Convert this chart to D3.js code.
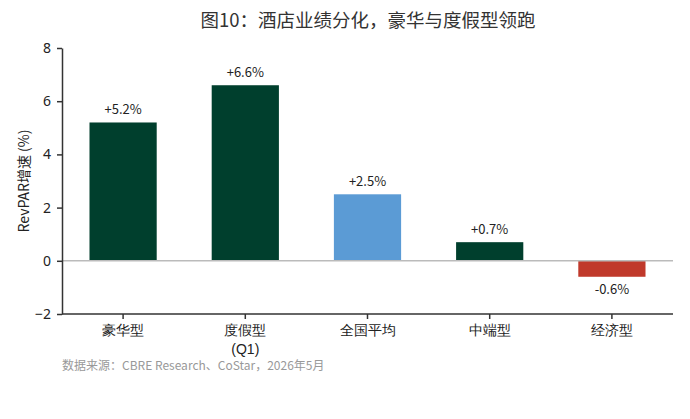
<!DOCTYPE html>
<html><head><meta charset="utf-8">
<script src="https://cdn.jsdelivr.net/npm/d3@7"></script>
<style>body{margin:0;background:#fff}svg{display:block;font-family:"Noto Sans CJK SC","Noto Sans",sans-serif}</style>
</head><body><svg id="c" width="690" height="419"></svg>
<script>
const categories = ["豪华型","度假型\n(Q1)","全国平均","中端型","经济型"];
const values = [5.2, 6.6, 2.5, 0.7, -0.6];
const valueLabels = ["+5.2%","+6.6%","+2.5%","+0.7%","-0.6%"];
const barColors = ["#003F2D","#003F2D","#5B9BD5","#003F2D","#C0392B"];
const yTicks = [-2,0,2,4,6,8];

const svg = d3.select("#c");
const x = d3.scaleBand().domain(categories).range([62,673]).paddingInner(0.45).paddingOuter(0.225);
const y = d3.scaleLinear().domain([-2,8]).range([314,48]);

svg.append("text").attr("x",368).attr("y",27).attr("text-anchor","middle")
  .attr("font-size",18.5).attr("fill","#333").text("图10：酒店业绩分化，豪华与度假型领跑");

// bars
svg.selectAll("rect.bar").data(values).join("rect").attr("class","bar")
  .attr("x",(d,i)=>x(categories[i])).attr("width",x.bandwidth())
  .attr("y",d=>y(Math.max(0,d))).attr("height",d=>Math.abs(y(d)-y(0)))
  .attr("fill",(d,i)=>barColors[i]);

// zero line
svg.append("line").attr("x1",62).attr("x2",673).attr("y1",y(0)).attr("y2",y(0))
  .attr("stroke","#BBBBBB").attr("stroke-width",1.5);

// value labels
svg.selectAll("text.val").data(values).join("text").attr("class","val")
  .attr("x",(d,i)=>x(categories[i])+x.bandwidth()/2)
  .attr("y",d=>d>=0?y(d)-8:y(d)+17)
  .attr("text-anchor","middle").attr("font-size",13).attr("fill","#222")
  .text((d,i)=>valueLabels[i]);

// y axis
const ya = svg.append("g").attr("transform","translate(62,0)")
  .call(d3.axisLeft(y).tickValues(yTicks).tickSize(5).tickSizeOuter(0).tickPadding(6));
ya.select(".domain").attr("stroke","#333").attr("stroke-width",1.5);
ya.selectAll(".tick line").attr("stroke","#333").attr("stroke-width",1.5);
ya.selectAll(".tick text").attr("font-size",14).attr("fill","#222").attr("font-family","'Noto Sans',sans-serif");

// x axis
const xa = svg.append("g").attr("transform","translate(0,314)")
  .call(d3.axisBottom(x).tickSize(5).tickSizeOuter(0).tickFormat(""));
xa.select(".domain").attr("stroke","#333").attr("stroke-width",1.5).attr("d","M62,0H673");
xa.selectAll(".tick line").attr("stroke","#333").attr("stroke-width",1.5);
xa.selectAll(".tick").each(function(d){
  const lines = d.split("\n");
  const t = d3.select(this).append("text").attr("text-anchor","middle").attr("font-size",14).attr("fill","#222");
  lines.forEach((l,i)=>t.append("tspan").attr("x",0).attr("y",21+i*19).text(l));
});

// y label
svg.append("text").attr("transform","translate(29,181) rotate(-90)").attr("text-anchor","middle")
  .attr("font-size",14).attr("fill","#222").text("RevPAR增速 (%)");

// source
svg.append("text").attr("x",62).attr("y",370).attr("font-size",12).attr("fill","#999")
  .text("数据来源：CBRE Research、CoStar，2026年5月");
</script></body></html>
